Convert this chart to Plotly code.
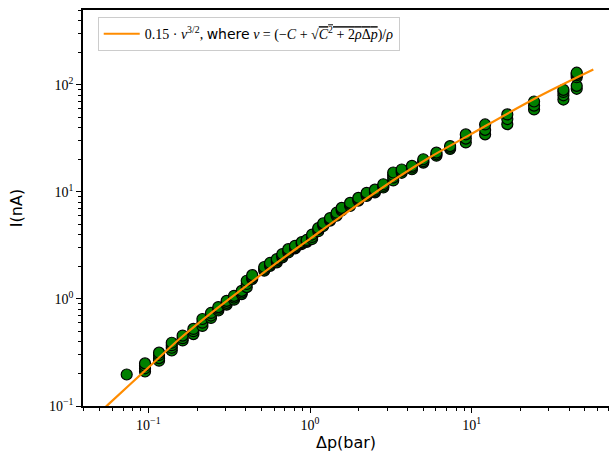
import plotly.graph_objects as go

# Measured data: pressure steps (bar) and repeated current readings (nA)
dp_steps = [0.0735, 0.0954, 0.1165, 0.1396, 0.163, 0.190, 0.216, 0.244, 0.271, 0.305,
            0.339, 0.378, 0.406, 0.439, 0.521, 0.566, 0.623, 0.674, 0.734, 0.808,
            0.889, 0.954, 1.03, 1.125, 1.208, 1.33, 1.46, 1.57, 1.77, 1.99,
            2.24, 2.52, 2.84, 3.27, 3.69, 4.27, 5.02, 6.05, 7.35, 9.19,
            12.1, 16.6, 24.3, 36.9, 44.6]
current_steps = [
    [0.197],
    [0.21, 0.225, 0.238, 0.25],
    [0.265, 0.28, 0.30, 0.315],
    [0.33, 0.35, 0.37, 0.39],
    [0.41, 0.43, 0.455],
    [0.47, 0.50, 0.525],
    [0.56, 0.60, 0.65],
    [0.665, 0.70, 0.74],
    [0.78, 0.81, 0.84],
    [0.885, 0.92, 0.96],
    [0.985, 1.03, 1.07],
    [1.11, 1.15, 1.19],
    [1.29, 1.38, 1.48],
    [1.54, 1.60, 1.67],
    [1.84, 1.91, 1.99],
    [2.04, 2.10, 2.17],
    [2.20, 2.28, 2.36],
    [2.45, 2.54, 2.63],
    [2.72, 2.82, 2.92],
    [2.97, 3.05, 3.14],
    [3.26, 3.33, 3.40],
    [3.42, 3.49, 3.56],
    [3.63, 3.8, 4.0],
    [4.3, 4.49, 4.6],
    [4.8, 5.0, 5.1],
    [5.4, 5.57, 5.7],
    [6.0, 6.2, 6.4],
    [6.7, 6.9, 7.1],
    [7.4, 7.68, 7.9],
    [8.3, 8.55, 8.8],
    [9.2, 9.52, 9.8],
    [9.9, 10.2, 10.5],
    [11.0, 11.4, 11.8],
    [12.8, 13.6, 14.4, 15.2],
    [15.1, 15.7, 16.2],
    [16.3, 16.9, 17.5],
    [18.8, 19.4, 20.2],
    [21.8, 22.5, 23.3],
    [25.2, 25.9, 26.8],
    [29.0, 31.5, 34.5],
    [34.5, 38.0, 42.7],
    [43, 48, 53],
    [59, 64, 70],
    [73, 80, 86, 90],
    [92, 98, 118, 123, 127, 130],
]

# Fit curve
fit_dp = [0.0501, 0.0566, 0.0977, 0.157, 0.252, 0.406, 0.652, 1.0, 1.535,
          3.44, 5.52, 9.77, 24.0, 56.5]
fit_current = [0.0871, 0.1035, 0.221, 0.427, 0.767, 1.334, 2.29, 3.65, 5.82,
               13.5, 21.1, 34.3, 73.1, 139]

x_tick_vals = [0.1, 1, 10]
x_tick_text = ["10<sup>\u22121</sup>", "10<sup>0</sup>", "10<sup>1</sup>"]
y_tick_vals = [0.1, 1, 10, 100]
y_tick_text = ["10<sup>\u22121</sup>", "10<sup>0</sup>", "10<sup>1</sup>", "10<sup>2</sup>"]

legend_label = ("0.15 \u00b7 <i>v</i><sup>3/2</sup>, "
                "<span style='font-family:DejaVu Sans'>where</span> "
                "<i>v</i> = (\u2212<i>C</i> + \u221a<span style='text-decoration:overline'>"
                "<i>C</i><sup>2</sup> + 2<i>\u03c1</i>\u0394<i>p</i></span>)/<i>\u03c1</i>")

xs, ys = [], []
for p, vals in zip(dp_steps, current_steps):
    for v in vals:
        xs.append(p)
        ys.append(v)

fig = go.Figure()
fig.add_trace(go.Scatter(
    x=xs, y=ys, mode="markers", showlegend=False,
    marker=dict(size=11, color="green", line=dict(color="black", width=1.2)),
))
fig.add_trace(go.Scatter(
    x=fit_dp, y=fit_current, mode="lines", name=legend_label,
    line=dict(color="darkorange", width=2.2, shape="spline"),
))

minor_x = [m * 10 ** e for e in range(-2, 2) for m in range(2, 10)]
minor_y = [m * 10 ** e for e in range(-1, 3) for m in range(2, 10)]

axis_common = dict(
    type="log", showgrid=False, zeroline=False, automargin=False,
    showline=True, linecolor="black", linewidth=1.5,
    ticks="outside", ticklen=5, tickwidth=1.2, tickcolor="black",
    tickfont=dict(family="Liberation Serif", size=14, color="black"),
    title_font=dict(family="DejaVu Sans", size=16, color="black"),
)

fig.update_xaxes(
    **axis_common, range=[-1.404, 1.849], mirror=True,
    tickmode="array", tickvals=x_tick_vals, ticktext=x_tick_text,
    minor=dict(tickmode="array", tickvals=minor_x, ticks="outside", ticklen=3,
               tickwidth=0.8, tickcolor="black"),
    title_text="\u0394p(bar)", title_standoff=4,
)
fig.update_yaxes(
    **axis_common, range=[-1, 2.70],
    tickmode="array", tickvals=y_tick_vals, ticktext=y_tick_text,
    minor=dict(tickmode="array", tickvals=minor_y, ticks="outside", ticklen=3,
               tickwidth=0.8, tickcolor="black"),
    title_text="I(nA)", title_standoff=22,
)

fig.update_layout(
    width=609, height=457,
    margin=dict(l=83, r=0, t=10, b=51),
    plot_bgcolor="white", paper_bgcolor="white",
    legend=dict(
        x=0.028, y=0.982, xanchor="left", yanchor="top",
        bgcolor="rgba(255,255,255,0.8)", bordercolor="#cccccc", borderwidth=1,
        font=dict(family="Liberation Serif", size=14, color="black"),
        itemwidth=36,
    ),
)

fig.write_html(
    "out.html",
    config={"displayModeBar": False},
    post_script="document.body.style.margin='0px';document.body.style.overflow='hidden';",
)
